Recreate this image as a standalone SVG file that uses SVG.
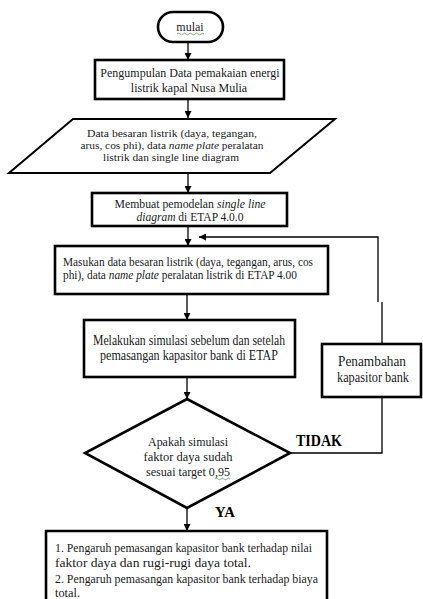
<svg xmlns="http://www.w3.org/2000/svg" width="423" height="599" viewBox="0 0 423 599">
<style>
.bx{fill:#fff;stroke:#000;stroke-width:2.6}
.pl{fill:#fff;stroke:#000;stroke-width:2}
.ln{fill:none;stroke:#000;stroke-width:1.3}
text{font-family:"Liberation Serif","Times New Roman",serif;fill:#1a1a1a}
.t11{font-size:11px}
.t12{font-size:12px}
.t13{font-size:13px}
.t14{font-size:14px}
.c{text-anchor:middle}
.b{font-weight:bold;fill:#000}
.sq{fill:none;stroke:#5aa05a;stroke-width:0.8}
</style>
<defs>
<marker id="ah" viewBox="0 0 10 10" refX="10" refY="5" markerWidth="7" markerHeight="7" orient="auto" markerUnits="userSpaceOnUse">
<path d="M0,0 L10,5 L0,10 z" fill="#000"/>
</marker>
</defs>
<rect width="423" height="599" fill="#fff"/>
<g id="connectors">
<line class="ln" x1="188" y1="42" x2="188" y2="60" marker-end="url(#ah)"/>
<line class="ln" x1="188" y1="99" x2="188" y2="118" marker-end="url(#ah)"/>
<line class="ln" x1="188" y1="173" x2="188" y2="193" marker-end="url(#ah)"/>
<line class="ln" x1="188" y1="226" x2="188" y2="246" marker-end="url(#ah)"/>
<line class="ln" x1="187" y1="294" x2="187" y2="320" marker-end="url(#ah)"/>
<line class="ln" x1="187" y1="377" x2="187" y2="399" marker-end="url(#ah)"/>
<line class="ln" x1="187" y1="508" x2="187" y2="531" marker-end="url(#ah)"/>
<polyline class="ln" points="290,453 382,453 382,397"/>
<polyline class="ln" points="382,344 382,302"/>
<polyline class="ln" points="378,302 378,237 199,237" marker-end="url(#ah)"/>
</g>
<g id="start">
<rect class="bx" x="158" y="12" width="65" height="30" rx="15" ry="15"/>
<text class="t12 c" x="190" y="31">mulai</text>
<path class="sq" d="M177,34 q1.5,-1.5 3,0 t3,0 t3,0 t3,0 t3,0 t3,0 t3,0 t3,0 t3,0"/>
</g>
<g id="collect">
<rect class="bx" x="95" y="60" width="189" height="39"/>
<text class="t12 c" x="190" y="77">Pengumpulan Data pemakaian energi</text>
<text class="t12 c" x="189" y="92">listrik kapal Nusa Mulia</text>
</g>
<g id="data">
<polygon class="pl" points="73,119 335,119 270,173 9,173"/>
<text class="t11 c" x="172" y="137" textLength="170" lengthAdjust="spacingAndGlyphs">Data besaran listrik (daya, tegangan,</text>
<text class="t11 c" x="172" y="149" textLength="183" lengthAdjust="spacingAndGlyphs">arus, cos phi), data <tspan font-style="italic">name plate</tspan> peralatan</text>
<text class="t11 c" x="171" y="161" textLength="136" lengthAdjust="spacingAndGlyphs">listrik  dan single line  diagram</text>
</g>
<g id="model">
<rect class="bx" x="92" y="193" width="195" height="33"/>
<text class="t12 c" x="190" y="208" textLength="151" lengthAdjust="spacingAndGlyphs">Membuat pemodelan <tspan font-style="italic">single line</tspan></text>
<text class="t12 c" x="190" y="221" textLength="107" lengthAdjust="spacingAndGlyphs"><tspan font-style="italic">diagram</tspan> di ETAP 4.0.0</text>
</g>
<g id="input">
<rect class="bx" x="55" y="246" width="273" height="48"/>
<text class="t12" x="63" y="266" textLength="250" lengthAdjust="spacingAndGlyphs">Masukan data besaran listrik (daya, tegangan, arus, cos</text>
<text class="t12" x="63" y="279" textLength="234" lengthAdjust="spacingAndGlyphs">phi), data <tspan font-style="italic">name plate</tspan> peralatan listrik  di ETAP  4.00</text>
</g>
<g id="simulate">
<rect class="bx" x="84" y="320" width="211" height="57"/>
<text class="t14 c" x="189" y="345" textLength="192" lengthAdjust="spacingAndGlyphs">Melakukan simulasi sebelum dan setelah</text>
<text class="t14 c" x="189" y="360" textLength="178" lengthAdjust="spacingAndGlyphs">pemasangan kapasitor bank di ETAP</text>
</g>
<g id="add">
<rect class="bx" x="322" y="344" width="99" height="53"/>
<text class="t14 c" x="372" y="366" textLength="68" lengthAdjust="spacingAndGlyphs">Penambahan</text>
<text class="t14 c" x="373" y="382" textLength="72" lengthAdjust="spacingAndGlyphs">kapasitor bank</text>
</g>
<g id="decision">
<polygon class="bx" points="187,399 290,453 187,508 85,453"/>
<text class="t13 c" x="188" y="446" textLength="80" lengthAdjust="spacingAndGlyphs">Apakah simulasi</text>
<text class="t13 c" x="188" y="461" textLength="89" lengthAdjust="spacingAndGlyphs">faktor daya sudah</text>
<text class="t13 c" x="188" y="476" textLength="84" lengthAdjust="spacingAndGlyphs">sesuai target 0,95</text>
<path class="sq" d="M215,479 q1.5,-1.5 3,0 t3,0 t3,0 t3,0 t3,0"/>
</g>
<g id="labels">
<text class="b" x="296" y="446" font-size="16" textLength="46" lengthAdjust="spacingAndGlyphs">TIDAK</text>
<text class="b" x="215" y="517" font-size="15" textLength="20" lengthAdjust="spacingAndGlyphs">YA</text>
</g>
<g id="result">
<path class="bx" d="M46,600 L46,531 L327,531 L327,600"/>
<text class="t13" x="55" y="552" textLength="257" lengthAdjust="spacingAndGlyphs">1. Pengaruh pemasangan kapasitor bank terhadap nilai</text>
<text class="t13" x="55" y="567" textLength="196" lengthAdjust="spacingAndGlyphs"><tspan>faktor daya dan </tspan><tspan>rugi-rugi  daya total.</tspan></text>
<text class="t13" x="55" y="583" textLength="263" lengthAdjust="spacingAndGlyphs">2. Pengaruh pemasangan kapasitor bank terhadap biaya</text>
<text class="t13" x="55" y="597" textLength="25" lengthAdjust="spacingAndGlyphs">total.</text>
</g>
</svg>
